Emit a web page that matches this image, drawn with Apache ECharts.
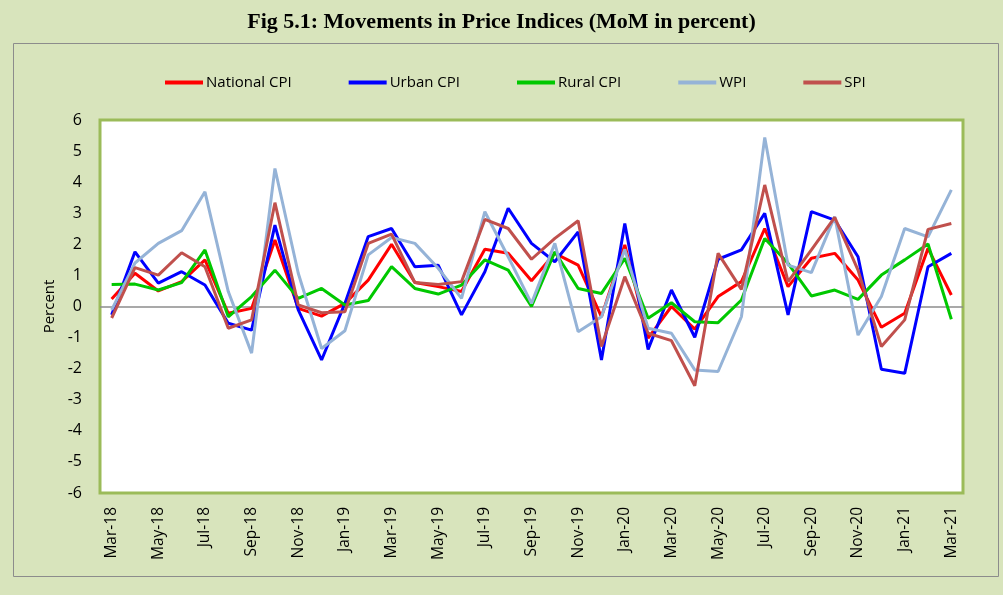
<!DOCTYPE html>
<html>
<head>
<meta charset="utf-8">
<style>
  html, body { margin: 0; padding: 0; background: #d8e4bc; }
  #chart { width: 1003px; height: 595px; }
</style>
<script src="https://cdn.jsdelivr.net/npm/echarts@6/dist/echarts.min.js"></script>
</head>
<body>
<div id="chart"></div>
<script>
const months = [
  'Mar-18', 'Apr-18', 'May-18', 'Jun-18', 'Jul-18', 'Aug-18', 'Sep-18', 'Oct-18', 'Nov-18', 'Dec-18',
  'Jan-19', 'Feb-19', 'Mar-19', 'Apr-19', 'May-19', 'Jun-19', 'Jul-19', 'Aug-19', 'Sep-19', 'Oct-19', 'Nov-19', 'Dec-19',
  'Jan-20', 'Feb-20', 'Mar-20', 'Apr-20', 'May-20', 'Jun-20', 'Jul-20', 'Aug-20', 'Sep-20', 'Oct-20', 'Nov-20', 'Dec-20',
  'Jan-21', 'Feb-21', 'Mar-21'
];

const nationalCpi = [0.24, 1.07, 0.5, 0.8, 1.5, -0.22, -0.06, 2.14, -0.06, -0.31, 0.1, 0.85, 2.0, 0.77, 0.64, 0.48,
  1.84, 1.71, 0.83, 1.71, 1.33, -0.33, 1.98, -1.02, 0, -0.73, 0.32, 0.8, 2.51, 0.64, 1.55, 1.71, 0.85, -0.67, -0.22, 1.87, 0.37];
const urbanCpi = [-0.27, 1.76, 0.75, 1.12, 0.69, -0.54, -0.76, 2.62, -0.11, -1.72, 0.1, 2.25, 2.51, 1.28, 1.33, -0.27,
  1.12, 3.16, 2.03, 1.44, 2.4, -1.72, 2.67, -1.38, 0.53, -0.99, 1.52, 1.82, 3.0, -0.27, 3.05, 2.78, 1.6, -2.02, -2.15, 1.28, 1.71];
const ruralCpi = [0.71, 0.72, 0.53, 0.77, 1.82, -0.33, 0.32, 1.17, 0.26, 0.58, 0.05, 0.19, 1.28, 0.58, 0.4, 0.69,
  1.5, 1.17, 0, 1.76, 0.58, 0.42, 1.55, -0.38, 0.12, -0.49, -0.52, 0.21, 2.19, 1.39, 0.34, 0.53, 0.23, 1.01, 1.5, 2.01, -0.41];
const wpi = [-0.11, 1.4, 2.03, 2.44, 3.69, 0.48, -1.5, 4.44, 1.07, -1.35, -0.78, 1.66, 2.22, 2.03, 1.23, 0.26,
  3.05, 1.6, 0.1, 2.03, -0.81, -0.33, 1.84, -0.7, -0.86, -2.04, -2.09, -0.33, 5.44, 1.33, 1.09, 2.89, -0.92, 0.32, 2.51, 2.24, 3.75];
const spi = [-0.37, 1.25, 1.01, 1.73, 1.28, -0.7, -0.43, 3.34, 0.05, -0.2, -0.17, 2.03, 2.33, 0.77, 0.71, 0.8,
  2.8, 2.51, 1.52, 2.19, 2.76, -1.29, 0.96, -0.86, -1.1, -2.55, 1.71, 0.55, 3.91, 0.8, 1.82, 2.87, 1.17, -1.29, -0.43, 2.48, 2.67];

const seriesNames = ['National CPI', 'Urban CPI', 'Rural CPI', 'WPI', 'SPI'];
const seriesColors = ['#ff0000', '#0000ff', '#00c800', '#95b3d7', '#c0504d'];
const seriesData = [nationalCpi, urbanCpi, ruralCpi, wpi, spi];

const font = "'Open Sans', 'Liberation Sans', sans-serif";

const chart = echarts.init(document.getElementById('chart'));
chart.setOption({
  backgroundColor: '#d8e4bc',
  animation: false,
  graphic: [
    {
      type: 'rect',
      shape: { x: 13.5, y: 43.5, width: 985, height: 533 },
      style: { fill: 'none', stroke: '#8c8c8c', lineWidth: 1 },
      z: 0
    }
  ],
  title: {
    text: 'Fig 5.1: Movements in Price Indices (MoM in percent)',
    left: 'center',
    top: 6,
    textStyle: {
      fontFamily: "'Liberation Serif', serif",
      fontWeight: 'bold',
      fontSize: 22,
      color: '#000'
    }
  },
  legend: {
    left: 160,
    top: 70,
    itemWidth: 38,
    itemHeight: 4,
    itemGap: 57,
    icon: 'rect',
    textStyle: { fontFamily: font, fontSize: 15, color: '#000', padding: [0, 0, 0, -2] },
    data: seriesNames
  },
  grid: {
    left: 100,
    right: 40,
    top: 120,
    bottom: 102,
    show: true,
    backgroundColor: '#fff',
    borderColor: '#9bbb59',
    borderWidth: 3
  },
  xAxis: {
    type: 'category',
    data: months,
    boundaryGap: true,
    axisLine: { show: false, onZero: false },
    axisTick: { show: false },
    axisLabel: {
      interval: 1,
      rotate: 90,
      margin: 14,
      fontFamily: font,
      fontSize: 15.5,
      color: '#000'
    },
    splitLine: { show: false }
  },
  yAxis: {
    type: 'value',
    min: -6,
    max: 6,
    interval: 1,
    name: 'Percent',
    nameLocation: 'middle',
    nameGap: 41,
    nameTextStyle: { fontFamily: font, fontSize: 15, color: '#000' },
    axisLine: { show: false },
    axisTick: { show: false },
    axisLabel: { fontFamily: font, fontSize: 16, color: '#000', margin: 18 },
    splitLine: { show: false }
  },
  series: seriesNames.map((name, i) => ({
    name: name,
    type: 'line',
    data: seriesData[i],
    symbol: 'none',
    lineStyle: { width: 3, color: seriesColors[i] },
    itemStyle: { color: seriesColors[i] },
    markLine: i === 0 ? {
      silent: true,
      symbol: 'none',
      label: { show: false },
      lineStyle: { color: '#8c8c8c', width: 1.5, type: 'solid' },
      data: [{ yAxis: 0 }],
      z: 1
    } : undefined,
    z: 2 + i
  }))
});
</script>
</body>
</html>
